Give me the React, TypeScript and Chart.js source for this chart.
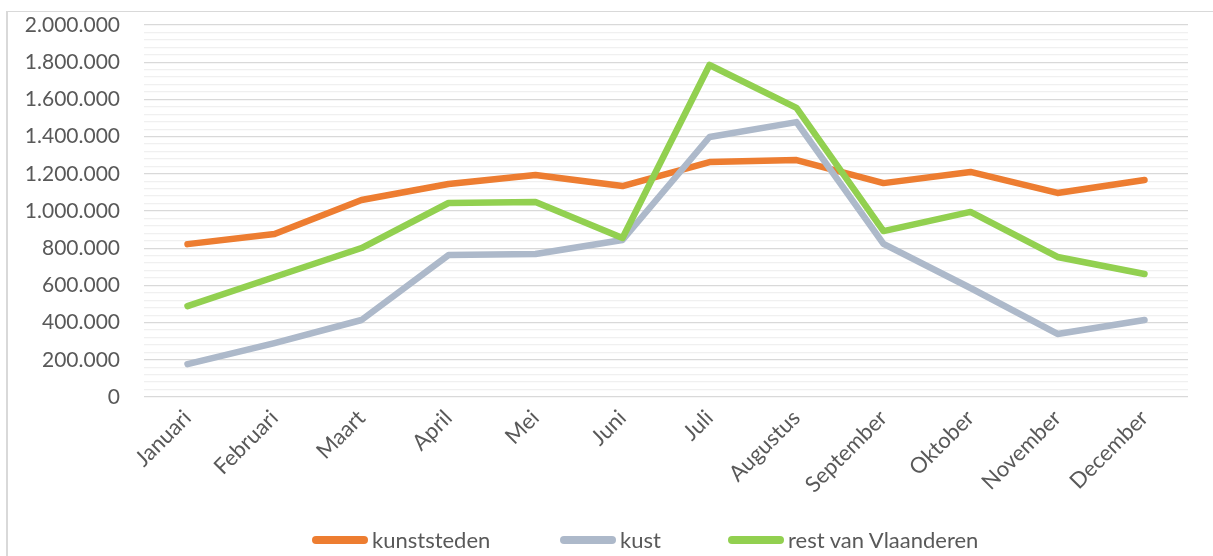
import React, { useEffect, useRef } from "react";
import { Chart, registerables } from "chart.js";

Chart.register(...registerables);

const months = ["Januari", "Februari", "Maart", "April", "Mei", "Juni", "Juli", "Augustus", "September", "Oktober", "November", "December"];
const kunststeden = [822000, 876000, 1059000, 1145000, 1194000, 1134000, 1263000, 1274000, 1150000, 1210000, 1097000, 1167000];
const kust = [177000, 290000, 414000, 763000, 769000, 844000, 1398000, 1478000, 823000, 586000, 339000, 414000];
const restVanVlaanderen = [489000, 645000, 801000, 1043000, 1048000, 855000, 1785000, 1554000, 892000, 995000, 753000, 661000];

const seriesNames = ["kunststeden", "kust", "rest van Vlaanderen"];
const seriesColors = ["#ED7D31", "#ADB9CA", "#92D050"];
const legendLefts = [304, 552, 720];

const FONT = "Lato, 'Liberation Sans', sans-serif";

function fmt(v: number): string {
  return Math.round(v).toString().replace(/\B(?=(\d{3})+(?!\d))/g, ".");
}

export default function App() {
  const ref = useRef<HTMLCanvasElement | null>(null);

  useEffect(() => {
    document.documentElement.style.overflow = "hidden";
    const canvas = ref.current;
    if (!canvas) return;
    const data = [kunststeden, kust, restVanVlaanderen];
    const chart = new Chart(canvas, {
      type: "line",
      data: {
        labels: months,
        datasets: data.map((d, i) => ({
          label: seriesNames[i],
          data: d,
          borderColor: seriesColors[i],
          backgroundColor: seriesColors[i],
          borderWidth: 6.5,
          pointRadius: 0,
          tension: 0,
          borderCapStyle: "round" as const,
          borderJoinStyle: "round" as const,
          order: 2 - i,
        })),
      },
      options: {
        animation: false,
        responsive: false,
        maintainAspectRatio: false,
        layout: { padding: { top: 13, left: 8, right: 25, bottom: 59 } },
        plugins: { legend: { display: false }, tooltip: { enabled: false } },
        scales: {
          x: {
            offset: true,
            grid: { display: false, drawTicks: false },
            border: { display: false },
            afterFit: (s: any) => {
              s.height = 100;
              s.paddingLeft = 0;
              s.paddingRight = 0;
            },
            ticks: {
              autoSkip: false,
              maxRotation: 45,
              minRotation: 45,
              color: "#595959",
              font: { family: FONT, size: 22 },
              padding: 8,
            },
          },
          y: {
            min: 0,
            max: 2000000,
            border: { display: false },
            afterFit: (s: any) => {
              s.width = 128;
              s.paddingTop = 0;
              s.paddingBottom = 0;
            },
            grid: {
              drawTicks: false,
              color: (ctx: any) => {
                const v = ctx.tick ? ctx.tick.value : 0;
                return v % 200000 === 0 ? "#D9D9D9" : "#F0F0F0";
              },
              lineWidth: 1.3,
            },
            ticks: {
              stepSize: 40000,
              autoSkip: false,
              color: "#595959",
              font: { family: FONT, size: 21 },
              padding: 24,
              callback: (v: any) => (Number(v) % 200000 === 0 ? fmt(Number(v)) : ""),
            },
          },
        },
      },
    });
    return () => chart.destroy();
  }, []);

  return (
    <div
      style={{
        position: "absolute",
        left: 6,
        top: 11,
        width: 1207,
        height: 545,
        borderTop: "1px solid #D9D9D9",
        borderLeft: "2px solid #D9D9D9",
        boxSizing: "border-box",
        background: "#fff",
      }}
    >
      <canvas ref={ref} width={1205} height={544} style={{ display: "block", width: 1205, height: 544 }} />
      {[0, 1, 2].map((i) => (
        <div key={i} style={{ position: "absolute", left: legendLefts[i], top: 517, display: "flex", alignItems: "center" }}>
          <div style={{ width: 56, height: 8, borderRadius: 4, background: seriesColors[i], marginRight: 4 }} />
          <span style={{ fontFamily: FONT, fontSize: 22, color: "#595959", lineHeight: "22px" }}>{seriesNames[i]}</span>
        </div>
      ))}
    </div>
  );
}
